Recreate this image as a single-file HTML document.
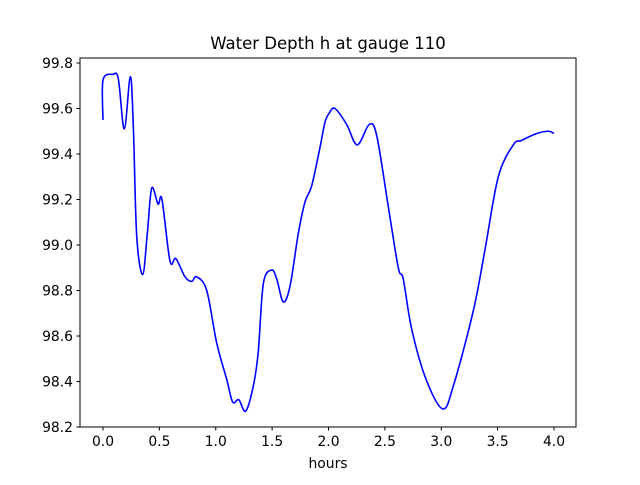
<!DOCTYPE html>
<html><head><meta charset="utf-8"><style>
html,body{margin:0;padding:0;background:#fff;}
svg text{font-family:"DejaVu Sans","Liberation Sans",sans-serif;fill:#000;}
</style></head><body>
<svg id="chart" width="640" height="480" xmlns="http://www.w3.org/2000/svg">
<rect x="0" y="0" width="640" height="480" fill="#fff"/>
<text x="328" y="49" text-anchor="middle" font-size="16.5">Water Depth h at gauge 110</text>
<g id="xticks"></g>
<g id="yticks"></g>
<path id="line" fill="none" stroke="#0000ff" stroke-width="1.6" stroke-linejoin="round"/>
<rect x="80" y="58" width="496" height="369" fill="none" stroke="#000" stroke-width="1"/>
<text x="328" y="468" text-anchor="middle" font-size="13.9">hours</text>
</svg>
<script>
const hours = [0.0,0.0,0.086,0.136,0.189,0.242,0.269,0.299,0.352,0.393,0.432,0.488,0.523,0.594,0.647,0.727,0.787,0.831,0.920,1.008,1.097,1.150,1.204,1.266,1.333,1.377,1.422,1.496,1.541,1.599,1.659,1.732,1.792,1.851,1.925,1.969,2.007,2.058,2.161,2.255,2.362,2.428,2.530,2.619,2.663,2.738,2.865,3.013,3.107,3.284,3.388,3.506,3.639,3.713,3.847,3.949,4.0];
const depth = [99.55,99.725,99.75,99.73,99.51,99.74,99.52,99.04,98.87,99.05,99.25,99.18,99.20,98.93,98.94,98.86,98.84,98.86,98.80,98.57,98.41,98.31,98.32,98.27,98.38,98.53,98.83,98.89,98.85,98.75,98.82,99.05,99.19,99.26,99.43,99.54,99.58,99.60,99.53,99.44,99.53,99.48,99.17,98.90,98.85,98.63,98.41,98.28,98.38,98.71,98.98,99.30,99.44,99.46,99.49,99.50,99.49];
const xTickLabels = ["0.0","0.5","1.0","1.5","2.0","2.5","3.0","3.5","4.0"];
const yTickLabels = ["98.2","98.4","98.6","98.8","99.0","99.2","99.4","99.6","99.8"];

const NS = "http://www.w3.org/2000/svg";
function xs(v){ return 103 + v*112.75; }
function ys(v){ return 427 - (v-98.2)*227.5; }

const xg = document.getElementById('xticks');
xTickLabels.forEach(function(l){
  const v = parseFloat(l), x = xs(v);
  const t = document.createElementNS(NS,'line');
  t.setAttribute('x1',x); t.setAttribute('x2',x); t.setAttribute('y1',427); t.setAttribute('y2',430.5);
  t.setAttribute('stroke','#000');
  
  
  xg.appendChild(t);
  const tx = document.createElementNS(NS,'text');
  tx.setAttribute('x',x); tx.setAttribute('y',446); tx.setAttribute('text-anchor','middle'); tx.setAttribute('font-size','13.9');
  tx.textContent = l;
  
  
  xg.appendChild(tx);
});
const yg = document.getElementById('yticks');
yTickLabels.forEach(function(l){
  const v = parseFloat(l), y = ys(v);
  const t = document.createElementNS(NS,'line');
  t.setAttribute('x1',76.5); t.setAttribute('x2',80); t.setAttribute('y1',y); t.setAttribute('y2',y);
  t.setAttribute('stroke','#000');
  
  
  yg.appendChild(t);
  const tx = document.createElementNS(NS,'text');
  tx.setAttribute('x',73); tx.setAttribute('y',y+5); tx.setAttribute('text-anchor','end'); tx.setAttribute('font-size','13.9');
  tx.textContent = l;
  
  
  yg.appendChild(tx);
});

const pts = hours.map(function(h,i){ return [xs(h), ys(depth[i])]; });
let d = 'M' + pts[0][0] + ' ' + pts[0][1];
for (let i=0;i<pts.length-1;i++){
  const p0 = pts[Math.max(0,i-1)], p1 = pts[i], p2 = pts[i+1], p3 = pts[Math.min(pts.length-1,i+2)];
  const c1x = p1[0] + (p2[0]-p0[0])/6, c1y = p1[1] + (p2[1]-p0[1])/6;
  const c2x = p2[0] - (p3[0]-p1[0])/6, c2y = p2[1] - (p3[1]-p1[1])/6;
  d += ' C' + c1x + ' ' + c1y + ' ' + c2x + ' ' + c2y + ' ' + p2[0] + ' ' + p2[1];
}
document.getElementById('line').setAttribute('d', d);
</script>
</body></html>
